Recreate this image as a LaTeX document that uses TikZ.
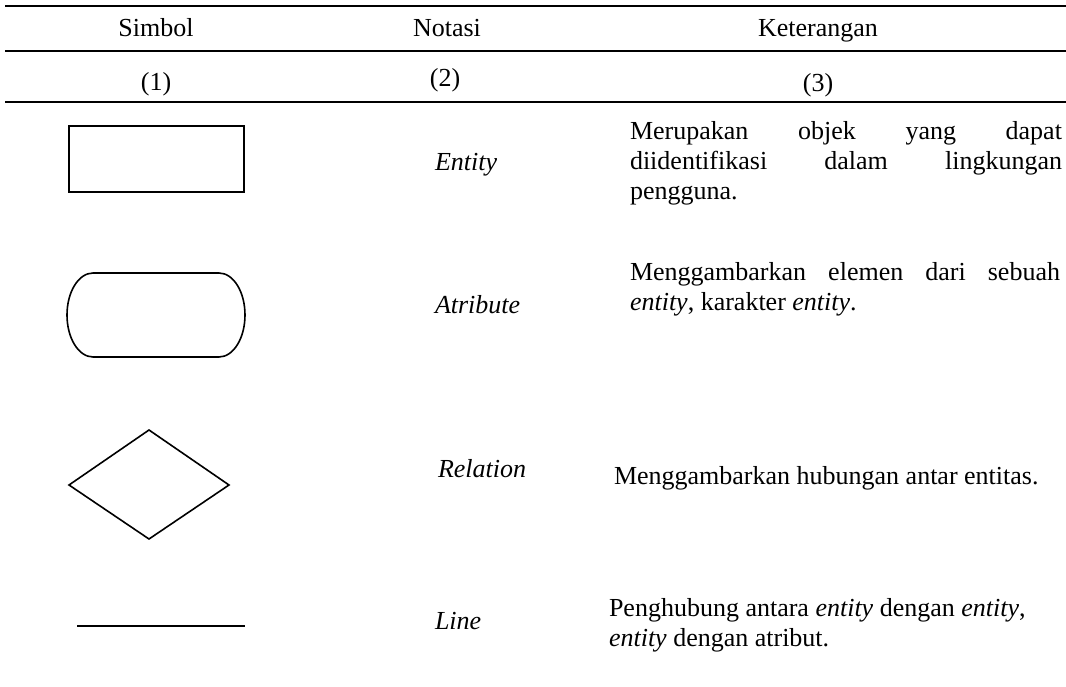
\documentclass[tikz,border=0pt]{standalone}
\usepackage{fontspec}
\setmainfont{Liberation Serif}
\begin{document}
\begin{tikzpicture}[x=1pt,y=-1pt,
  rule/.style={line width=2.6pt},
  symline/.style={line width=1.6pt, line join=miter},
  txt/.style={inner sep=0pt, outer sep=0pt, font=\fontsize{26}{30}\selectfont},
  hdr/.style={txt, anchor=base},
  notation/.style={txt, anchor=base west, font=\fontsize{26}{30}\selectfont\itshape},
  desc/.style={txt, anchor=base west, align=left}]
\useasboundingbox (0,0) rectangle (1066,687);

% table rules
\coordinate (r1a) at (5,6);   \coordinate (r1b) at (1066,6);
\coordinate (r2a) at (5,51);  \coordinate (r2b) at (1066,51);
\coordinate (r3a) at (5,102); \coordinate (r3b) at (1066,102);
\draw[rule] (r1a) -- (r1b);
\draw[rule, line width=2.2pt] (r2a) -- (r2b);
\draw[rule] (r3a) -- (r3b);

% column heads
\node[hdr] (hsym) at (156,37) {Simbol};
\node[hdr] (hnot) at (447,37) {Notasi};
\node[hdr] (hket) at (818,37) {Keterangan};
\node[hdr] (num1) at (156,91) {(1)};
\node[hdr] (num2) at (445,87) {(2)};
\node[hdr] (num3) at (818,92) {(3)};

% symbols
\node[draw, symline, inner sep=0pt, minimum width=175pt, minimum height=66pt] (entbox) at (156.5,159) {};
\draw[symline] (93,273) -- (219,273) arc (-90:90:26 and 42) -- (93,357) arc (90:270:26 and 42) -- cycle;
\draw[symline] (69,485) -- (149,430) -- (229,485) -- (149,539) -- cycle;
\coordinate (la) at (77,626); \coordinate (lb) at (245,626);
\draw[symline] (la) -- (lb);

% notation column
\node[notation] (tent) at (435,171) {Entity};
\node[notation] (tatr) at (435,313) {Atribute};
\node[notation] (trel) at (438,477) {Relation};
\node[notation] (tlin) at (435,629) {Line};

% descriptions
\node[desc] (dent) at (630,140) {\parbox[t]{432pt}{%
  \makebox[432pt][s]{Merupakan objek yang dapat}\\
  \makebox[432pt][s]{diidentifikasi dalam lingkungan}\\
  pengguna.}};
\node[desc] (datr) at (630,280) {\parbox[t]{430pt}{%
  \makebox[430pt][s]{Menggambarkan elemen dari sebuah}\\
  \textit{entity}, karakter \textit{entity}.}};
\node[desc] (drel) at (614,484) {Menggambarkan hubungan antar entitas.};
\node[desc] (dlin) at (609,616) {\parbox[t]{450pt}{%
  Penghubung antara \textit{entity} dengan \textit{entity},\\
  \textit{entity} dengan atribut.}};
\end{tikzpicture}
\end{document}
